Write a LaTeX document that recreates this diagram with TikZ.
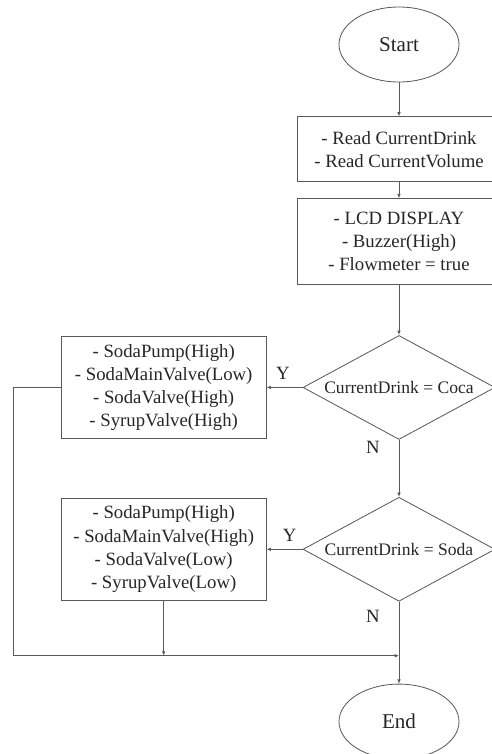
\documentclass[tikz,border=0pt]{standalone}
\usepackage{fontspec}
\setmainfont{Liberation Serif}
\usetikzlibrary{arrows.meta,positioning,calc,shapes.geometric}

\begin{document}
\begin{tikzpicture}[
  node distance=1cm and 1.08cm,
  box/.style={draw=black!65, line width=0.7pt, minimum width=6.12cm, align=center,
              font=\fontsize{16}{19.8}\selectfont, text=black!85},
  term/.style={ellipse, draw=black!65, line width=0.7pt, minimum width=3.6cm,
               minimum height=2.25cm, font=\fontsize{18}{21}\selectfont, text=black!85},
  decide/.style={diamond, aspect=1.85, draw=black!65, line width=0.7pt,
                 minimum width=5.76cm, minimum height=3.12cm, inner sep=0pt,
                 font=\fontsize{15}{18}\selectfont, text=black!85},
  act/.style={box, minimum width=6.15cm, minimum height=3.06cm},
  lbl/.style={font=\fontsize{16}{19}\selectfont, text=black!85},
  arr/.style={-{Latex[length=1.3mm,width=1.1mm]}, draw=black!65, line width=0.7pt},
]
\useasboundingbox (0,0) rectangle (14.76,-22.62);
\node[term] (start) at (11.97,-1.335) {Start};
\node[box, minimum height=1.95cm, below=1.02cm of start] (read)
  {- Read CurrentDrink\\- Read CurrentVolume};
\node[box, minimum height=2.58cm, below=0.48cm of read] (lcd)
  {- LCD DISPLAY\\- Buzzer(High)\\- Flowmeter = true};
\node[decide, below=1.5cm of lcd] (isCoca) {CurrentDrink = Coca};
\node[decide, below=1.71cm of isCoca] (isSoda) {CurrentDrink = Soda};
\node[term, below=2.46cm of isSoda] (stop) {End};
\node[act, left=of isCoca] (mixCoca)
  {- SodaPump(High)\\- SodaMainValve(Low)\\- SodaValve(High)\\- SyrupValve(High)};
\node[act, left=of isSoda] (mixSoda)
  {- SodaPump(High)\\- SodaMainValve(High)\\- SodaValve(Low)\\- SyrupValve(Low)};

\draw[arr] (start) -- (read);
\draw[arr] (read) -- (lcd);
\draw[arr] (lcd) -- (isCoca);
\draw[arr] (isCoca) -- node[lbl, pos=0.55, above=0.1cm] {Y} (mixCoca);
\draw[arr] (isCoca) -- node[lbl, pos=0.14, left=0.45cm] {N} (isSoda);
\draw[arr] (isSoda) -- node[lbl, pos=0.36, above=0.1cm] {Y} (mixSoda);
\draw[arr] (isSoda) -- node[lbl, pos=0.18, left=0.45cm] {N} (stop);

\coordinate (leftrail) at ($(mixCoca.west) + (-1.41,0)$);
\coordinate (merge) at ($(mixSoda.south) + (0,-1.65)$);
\coordinate (join) at (isSoda.south |- merge);
\draw[arr] (mixCoca.west) -- (leftrail) |- (join);
\draw[arr] (mixSoda.south) -- (merge);
\end{tikzpicture}
\end{document}
